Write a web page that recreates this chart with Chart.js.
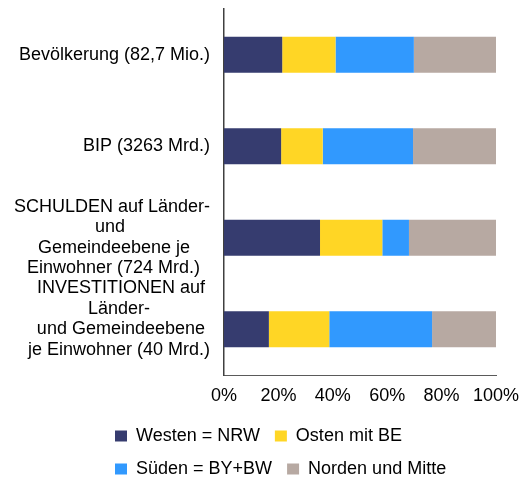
<!DOCTYPE html>
<html>
<head>
<meta charset="utf-8">
<script src="https://cdn.jsdelivr.net/npm/chart.js@4/dist/chart.umd.min.js"></script>
<style>
  html, body { margin: 0; padding: 0; background: #ffffff; }
  #c { display: block; }
</style>
</head>
<body>
<canvas id="c" width="520" height="481"></canvas>
<script>
// ---- data ----
const categories = [
  ['Bevölkerung (82,7 Mio.)'],
  ['BIP (3263 Mrd.)'],
  ['SCHULDEN auf Länder-', 'und', 'Gemeindeebene je', 'Einwohner (724 Mrd.)'],
  ['INVESTITIONEN auf', 'Länder-', 'und Gemeindeebene', 'je Einwohner (40 Mrd.)']
];
const seriesNames = ['Westen = NRW', 'Osten mit BE', 'Süden = BY+BW', 'Norden und Mitte'];
const westen = [21.4, 21.0, 35.3, 16.5];
const osten  = [19.6, 15.3, 22.9, 22.2];
const sueden = [28.8, 33.2, 9.8, 37.8];
const norden = [30.2, 30.5, 32.0, 23.5];
const xTickLabels = ['0%', '20%', '40%', '60%', '80%', '100%'];

// ---- styles ----
const palette = ['#363c6f', '#ffd625', '#3199fe', '#b7a9a2'];
const FONT = '"Liberation Sans", Arial, sans-serif';
const FS = 18;

// center each line of a multi-line label inside its block (block stays right-aligned)
const mctx = document.createElement('canvas').getContext('2d');
mctx.font = FS + 'px ' + FONT;
function centerLines(lines) {
  if (lines.length < 2) return lines.slice();
  const w = lines.map(l => mctx.measureText(l).width);
  const max = Math.max(...w);
  const sp = mctx.measureText(' ').width;
  return lines.map((l, i) => l + ' '.repeat(Math.round((max - w[i]) / 2 / sp)));
}
function yLabel(i) {
  const lines = centerLines(categories[i]);
  if (i === categories.length - 1) lines.push(''); // lift last label block like the original
  return lines;
}

const series = [westen, osten, sueden, norden];
const datasets = series.map((d, k) => ({
  label: seriesNames[k],
  data: d,
  backgroundColor: palette[k],
  borderWidth: 0,
  categoryPercentage: 1.0,
  barPercentage: 0.393
}));

// move the (start-aligned) legend block to the right, like the original
const legendShift = {
  id: 'legendShift',
  afterLayout(chart) {
    const lg = chart.legend;
    if (lg) { lg.left += 88; lg.right += 88; }
  }
};

new Chart(document.getElementById('c'), {
  type: 'bar',
  data: { labels: categories, datasets },
  plugins: [legendShift],
  options: {
    indexAxis: 'y',
    responsive: false,
    animation: false,
    layout: { padding: { left: 12, right: 24, top: 9, bottom: -7 } },
    plugins: {
      legend: {
        position: 'bottom',
        align: 'start',
        labels: {
          boxWidth: 12,
          boxHeight: 11,
          padding: 15,
          color: '#000',
          font: { size: FS, family: FONT }
        }
      },
      tooltip: { enabled: false }
    },
    scales: {
      x: {
        stacked: true,
        min: 0,
        max: 100,
        grid: { display: false, drawTicks: false },
        border: { display: true, color: '#5a5a5a', width: 1 },
        ticks: {
          stepSize: 20,
          padding: 10,
          maxRotation: 0,
          autoSkip: false,
          color: '#000',
          font: { size: FS, family: FONT },
          callback: (v) => xTickLabels[Math.round(v / 20)]
        },
        afterFit(s) { s.height = 37; s.paddingRight = 24; s.paddingLeft = 0; }
      },
      y: {
        stacked: true,
        grid: { display: false, drawTicks: false },
        border: { display: true, color: '#404040', width: 1.5 },
        ticks: {
          crossAlign: 'near',
          padding: 14,
          autoSkip: false,
          color: '#000',
          font: { size: FS, family: FONT, lineHeight: 1.14 },
          callback: (v, i) => yLabel(i)
        },
        afterFit(s) { s.width = 212; s.paddingTop = 0; s.paddingBottom = 0; }
      }
    }
  }
});
</script>
</body>
</html>
